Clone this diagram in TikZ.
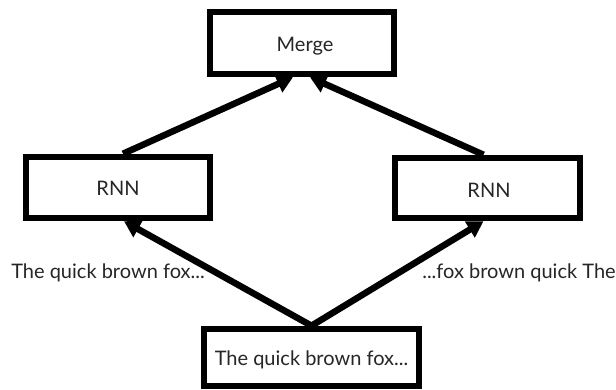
\documentclass[tikz,border=0pt]{standalone}
\usepackage{fontspec}
\setmainfont{Lato}
\usetikzlibrary{arrows.meta}
\begin{document}
\begin{tikzpicture}[x=1pt,y=-1pt,
  box/.style={draw=black,line width=6.5pt,fill=white,inner sep=0pt,font=\fontsize{20}{24}\selectfont,text=black!85},
  lbl/.style={inner sep=0pt,font=\fontsize{20}{24}\selectfont,text=black!85},
  arr/.style={line width=6.5pt,-{Triangle[length=16pt,width=18pt]}}]
\useasboundingbox (0,0) rectangle (616,390);
\node[box,minimum width=184pt,minimum height=62pt] (merge) at (302,43) {};
\node[box,minimum width=184pt,minimum height=61pt] (rnnl) at (118,187.5) {};
\node[box,minimum width=185pt,minimum height=60pt] (rnnr) at (487.5,188) {};
\node[box,minimum width=215pt,minimum height=57pt] (bot) at (311.5,357.5) {};
\node[lbl] (mt) at (305,46) {Merge};
\node[lbl] (lt) at (118,188.5) {RNN};
\node[lbl] (rt) at (489,190) {RNN};
\node[lbl] (bt) at (311.5,360) {The quick brown fox...};
\node[lbl] (ll) at (108,273) {The quick brown fox...};
\node[lbl] (rl) at (519,273) {...fox brown quick The};
\draw[arr] (bot.north) -- ([xshift=6pt]rnnl.south);
\draw[arr] (bot.north) -- ([xshift=-4pt]rnnr.south);
\draw[arr] ([xshift=5pt]rnnl.north) -- ([xshift=-9pt]merge.south);
\draw[arr] ([xshift=-4pt]rnnr.north) -- ([xshift=8pt]merge.south);
\end{tikzpicture}
\end{document}
